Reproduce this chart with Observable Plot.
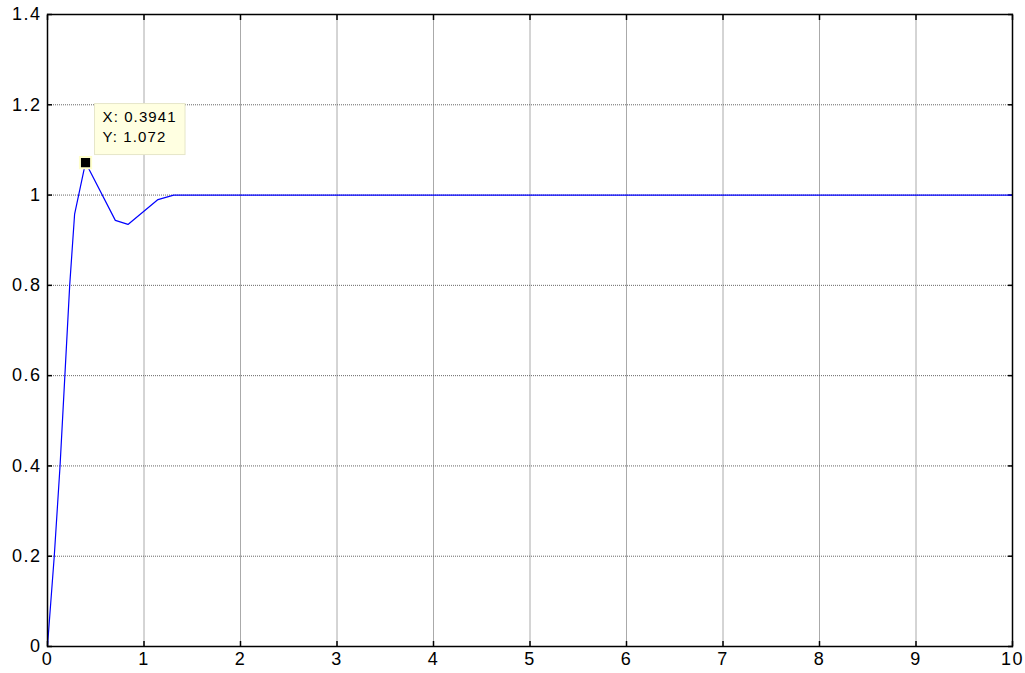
<!DOCTYPE html>
<html>
<head>
<meta charset="utf-8">
<script src="https://cdn.jsdelivr.net/npm/d3@7"></script>
<script src="https://cdn.jsdelivr.net/npm/@observablehq/plot@0.6"></script>
<style>
  html, body { margin: 0; padding: 0; background: #fff; }
  #chart svg { display: block; }
  #chart svg g[aria-label$="tick label"] text { letter-spacing: 1.5px; }
  #chart svg g.tiptext text { letter-spacing: 1.1px; }
</style>
</head>
<body>
<div id="chart"></div>
<script>
// Step response samples
const tVals = [0, 0.01, 0.07, 0.13, 0.18, 0.23, 0.281, 0.3941, 0.703, 0.834, 1.145, 1.307, 10];
const yVals = [0, 0.03, 0.2, 0.4, 0.6, 0.8, 0.958, 1.072, 0.944, 0.935, 0.99, 1.0, 1.0];

// Tick values
const xTicks = [0, 1, 2, 3, 4, 5, 6, 7, 8, 9, 10];
const yTicks = [0, 0.2, 0.4, 0.6, 0.8, 1.0, 1.2, 1.4];

// Data tip
const tipX = [0.3941];
const tipY = [1.072];
const tipLabel = ["X: 0.3941\nY: 1.072"];

const series = tVals.map((t, i) => ({t, y: yVals[i]}));
const tip = tipX.map((x, i) => ({x, y: tipY[i], label: tipLabel[i]}));

const fmt = d => String(+(+d).toFixed(1));

const chart = Plot.plot({
  width: 1025,
  height: 673,
  marginLeft: 47,
  marginRight: 13,
  marginTop: 14,
  marginBottom: 27,
  style: {fontFamily: "'Liberation Sans', Arial, sans-serif", fontSize: "18px", color: "#000", background: "#fff"},
  x: {domain: [0, 10], ticks: xTicks, tickFormat: fmt},
  y: {domain: [0, 1.4], ticks: yTicks, tickFormat: fmt},
  marks: [
    Plot.gridX(xTicks, {stroke: "#aaa", strokeOpacity: 1, strokeWidth: 1}),
    Plot.gridY(yTicks, {stroke: "#666", strokeOpacity: 1, strokeWidth: 1, strokeDasharray: "1,1"}),
    Plot.axisX(xTicks, {anchor: "bottom", tickSize: -5, tickPadding: 11, stroke: "#000", strokeWidth: 1.5, fontSize: 18, label: null, tickFormat: fmt}),
    Plot.axisX(xTicks, {anchor: "top", tickSize: -5, text: null, stroke: "#000", strokeWidth: 1.5, label: null}),
    Plot.axisY(yTicks, {anchor: "left", tickSize: -5, tickPadding: 11, stroke: "#000", strokeWidth: 1.5, fontSize: 18, label: null, tickFormat: fmt}),
    Plot.axisY(yTicks, {anchor: "right", tickSize: -5, text: null, stroke: "#000", strokeWidth: 1.5, label: null}),
    Plot.line(series, {x: "t", y: "y", stroke: "#0000ff", strokeWidth: 1.2}),
    // data tip box
    Plot.rect(tip, {x1: "x", x2: "x", y1: "y", y2: "y",
      insetLeft: 9.5, insetRight: -100, insetTop: -58.5, insetBottom: 7.5,
      fill: "#ffffe1", stroke: "#e6e6c8", strokeWidth: 1}),
    Plot.text(tip, {x: "x", y: "y", text: "label", dx: 17, dy: -37, textAnchor: "start",
      lineHeight: 1.35, fontSize: 15, fill: "#000", className: "tiptext"}),
    Plot.dot(tip, {x: "x", y: "y", symbol: "square", r: 6.3, fill: "#000", stroke: "#ffffcc", strokeWidth: 2}),
    Plot.frame({stroke: "#000", strokeWidth: 1.5})
  ]
});
document.getElementById("chart").appendChild(chart);
</script>
</body>
</html>
